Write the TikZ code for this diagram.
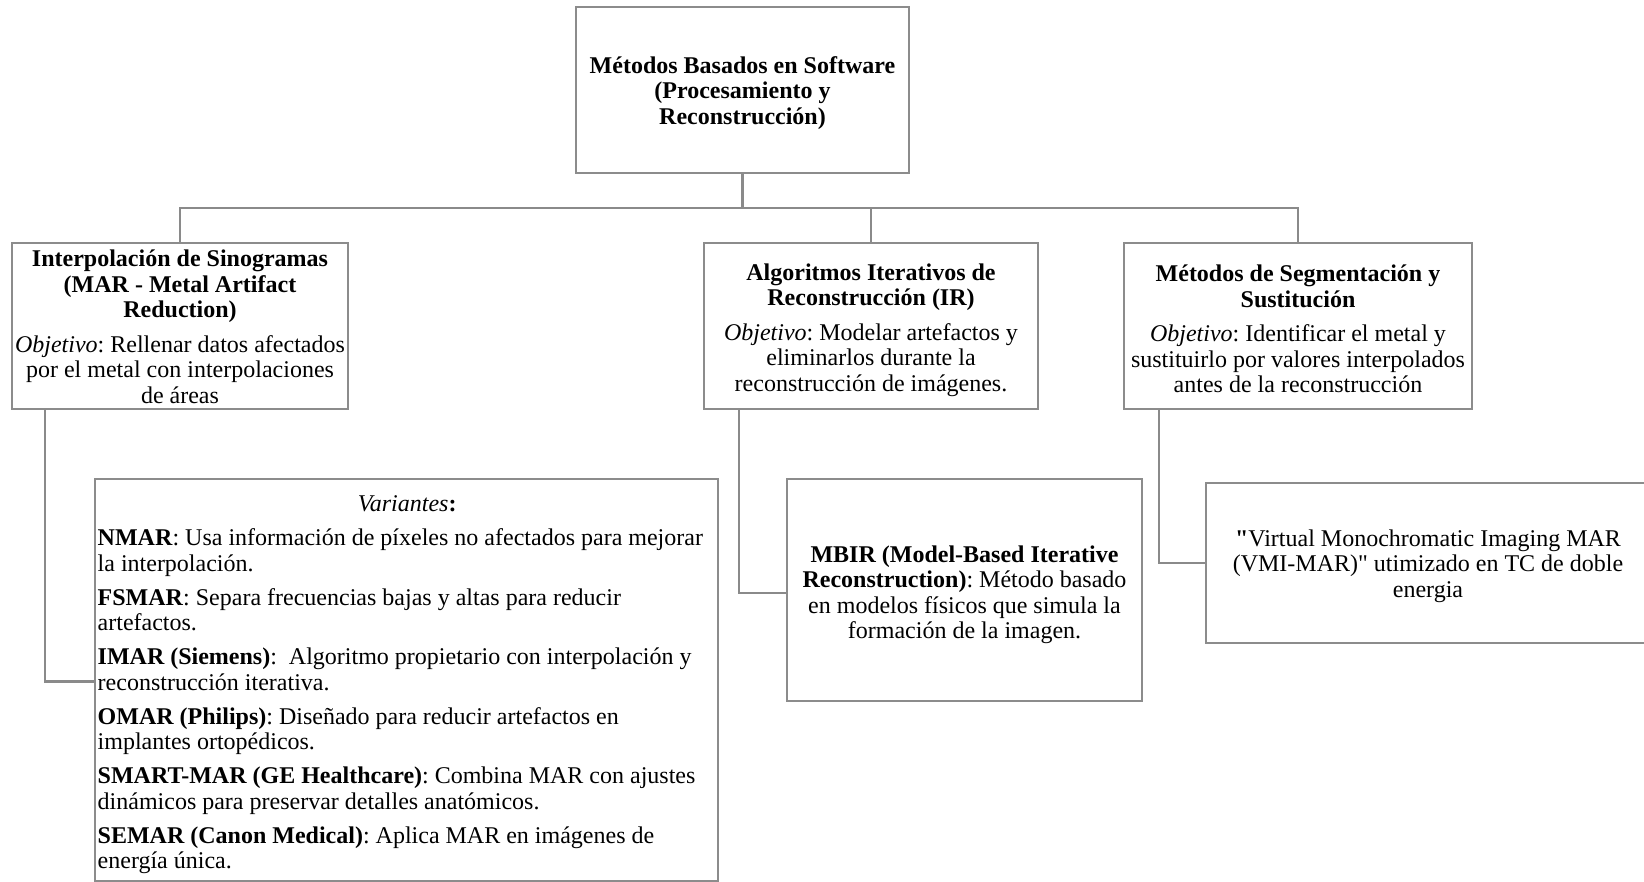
\documentclass[tikz,border=0pt]{standalone}
\usepackage{fontspec}
\setmainfont{Liberation Serif}[Ligatures=TeXOff]
\definecolor{boxgray}{HTML}{8C8C8C}
\definecolor{linegray}{HTML}{8A8A8A}
\begin{document}
\begin{tikzpicture}[x=1pt,y=-1pt,
  every node/.style={font=\fontsize{24}{25.5}\selectfont\frenchspacing, inner sep=0pt},
  box/.style={draw=boxgray, line width=1.4pt, rectangle},
  txt/.style={align=center},
  conn/.style={draw=linegray, line width=2.2pt}
]
\useasboundingbox (0,0) rectangle (1644,881);

% boxes
\node[box, minimum width=333, minimum height=166] (root) at (742.5,90) {};
\node[box, minimum width=336, minimum height=166] (c1) at (180,326) {};
\node[box, minimum width=334, minimum height=166] (c2) at (871,326) {};
\node[box, minimum width=348, minimum height=166] (c3) at (1298,326) {};
\node[box, minimum width=623, minimum height=402] (var) at (406.5,680) {};
\node[box, minimum width=355, minimum height=222] (mbir) at (964.5,590) {};
\node[box, minimum width=444, minimum height=160] (vmi) at (1428,563) {};

% texts
\node[txt] (troot) at ([yshift=-3]root.center)
  {\textbf{Métodos Basados en Software}\\ \textbf{(Procesamiento y}\\ \textbf{Reconstrucción)}};

\node[txt] (tc1) at ([yshift=-1]c1.center)
  {\textbf{Interpolación de Sinogramas}\\ \textbf{(MAR - Metal Artifact}\\ \textbf{Reduction)}\\[9pt]
   \textit{Objetivo}: Rellenar datos afectados\\ por el metal con interpolaciones\\ de áreas};

\node[txt] (tc2) at ([yshift=-4]c2.center)
  {\textbf{Algoritmos Iterativos de}\\ \textbf{Reconstrucción (IR)}\\[9pt]
   \textit{Objetivo}: Modelar artefactos y\\ eliminarlos durante la\\ reconstrucción de imágenes.};

\node[txt] (tc3) at ([yshift=-3]c3.center)
  {\textbf{Métodos de Segmentación y}\\ \textbf{Sustitución}\\[9pt]
   \textit{Objetivo}: Identificar el metal y\\ sustituirlo por valores interpolados\\ antes de la reconstrucción};

\node[anchor=north west, align=left] (tvar) at (97.5,495.5)
  {\makebox[619pt]{\textit{Variantes}\textbf{:}}\\[8.5pt]
   \textbf{NMAR}: Usa información de píxeles no afectados para mejorar\\ la interpolación.\\[8.5pt]
   \textbf{FSMAR}: Separa frecuencias bajas y altas para reducir\\ artefactos.\\[8.5pt]
   \textbf{IMAR (Siemens)}:\ \ Algoritmo propietario con interpolación y\\ reconstrucción iterativa.\\[8.5pt]
   \textbf{OMAR (Philips)}: Diseñado para reducir artefactos en\\ implantes ortopédicos.\\[8.5pt]
   \textbf{SMART-MAR (GE Healthcare)}: Combina MAR con ajustes\\ dinámicos para preservar detalles anatómicos.\\[8.5pt]
   \textbf{SEMAR (Canon Medical)}: Aplica MAR en imágenes de\\ energía única.};

\node[txt] (tmbir) at ([yshift=-5]mbir.center)
  {\textbf{MBIR (Model-Based Iterative}\\ \textbf{Reconstruction)}: Método basado\\ en modelos físicos que simula la\\ formación de la imagen.};

\node[txt] (tvmi) at ([yshift=-3]vmi.center)
  {\textbf{"}Virtual Monochromatic Imaging MAR\\ (VMI-MAR)" utimizado en TC de doble\\ energia};

% connectors
\coordinate (bus) at (742.5,208);
\draw[conn] (root.south) -- (bus);
\draw[conn] (bus) -| (c1.north);
\draw[conn] (bus) -| (c2.north);
\draw[conn] (bus) -| (c3.north);
\draw[conn] ([xshift=34]c1.south west) |- ([yshift=-1.5]var.west);
\draw[conn] ([xshift=36]c2.south west) |- ([yshift=-3]mbir.west);
\draw[conn] ([xshift=36]c3.south west) |- (vmi.west);
\end{tikzpicture}
\end{document}
